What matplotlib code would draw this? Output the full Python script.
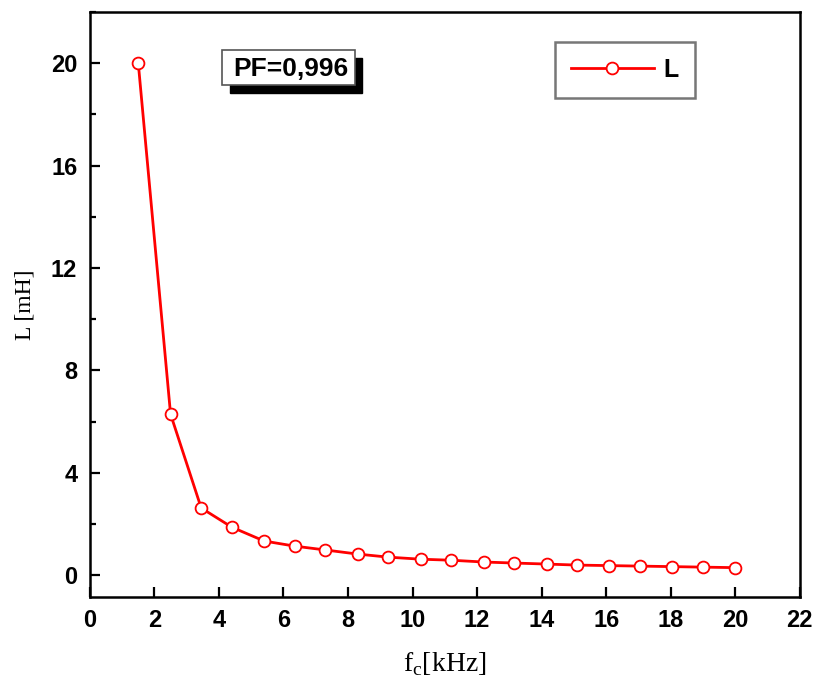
import matplotlib
matplotlib.use("Agg")
import matplotlib.pyplot as plt
from matplotlib.patches import Rectangle
from matplotlib.ticker import MultipleLocator

fc_khz = [1.5, 2.5, 3.45, 4.4, 5.4, 6.35, 7.3, 8.3, 9.25, 10.25, 11.2, 12.2,
          13.15, 14.15, 15.1, 16.1, 17.05, 18.05, 19.0, 20.0]
L_mH = [20.0, 6.29, 2.62, 1.87, 1.33, 1.13, 0.98, 0.82, 0.70, 0.62, 0.58, 0.51,
        0.47, 0.43, 0.39, 0.37, 0.35, 0.33, 0.31, 0.29]
x_ticks = list(range(0, 23, 2))
y_ticks = [0, 4, 8, 12, 16, 20]

fig = plt.figure(figsize=(8.17, 6.86), dpi=100)
ax = fig.add_axes([0.110, 0.130, 0.869, 0.8525])

ax.plot(fc_khz, L_mH, color="red", lw=2.0, marker="o", ms=8.5,
        mfc="white", mec="red", mew=1.3, label="L")

ax.set_xlim(0, 22)
ax.set_ylim(-0.85, 22)
ax.set_xticks(x_ticks)
ax.xaxis.set_minor_locator(MultipleLocator(2))
ax.set_yticks(y_ticks)
ax.yaxis.set_minor_locator(MultipleLocator(2))
ax.tick_params(which="both", direction="in", width=1.6)
ax.tick_params(which="major", length=7)
ax.tick_params(which="minor", length=4)
ax.tick_params(axis="x", which="major", pad=9)
ax.tick_params(axis="y", which="major", pad=9)
for s in ax.spines.values():
    s.set_linewidth(1.8)

for lab in ax.get_xticklabels() + ax.get_yticklabels():
    lab.set_fontfamily("Liberation Sans")
    lab.set_fontweight("bold")
    lab.set_fontsize(17)

ax.set_xlabel("f$_\\mathregular{c}$[kHz]", family="Liberation Serif", fontsize=20, labelpad=13)
ax.set_ylabel("L [mH]", family="Liberation Serif", fontsize=17, labelpad=11)

# PF box with shadow
ax.add_patch(Rectangle((0.197, 0.861), 0.187, 0.060, transform=ax.transAxes,
                       facecolor="black", edgecolor="black", zorder=4))
ax.add_patch(Rectangle((0.186, 0.875), 0.187, 0.060, transform=ax.transAxes,
                       facecolor="white", edgecolor="#555555", lw=1.2, zorder=5))
ax.text(0.2825, 0.903, "PF=0,996", transform=ax.transAxes, ha="center", va="center",
        family="Liberation Sans", fontweight="bold", fontsize=19, zorder=6)

leg = ax.legend(loc="upper left", bbox_to_anchor=(0.655, 0.949), frameon=True,
                fancybox=False, edgecolor="#555555", handlelength=3.3,
                borderpad=0.65, borderaxespad=0, handletextpad=0.4,
                prop={"family": "Liberation Sans", "weight": "bold", "size": 18})
leg._legend_box.align = "right"
leg.get_frame().set_linewidth(1.8)

fig.savefig("out.png", dpi=100)
